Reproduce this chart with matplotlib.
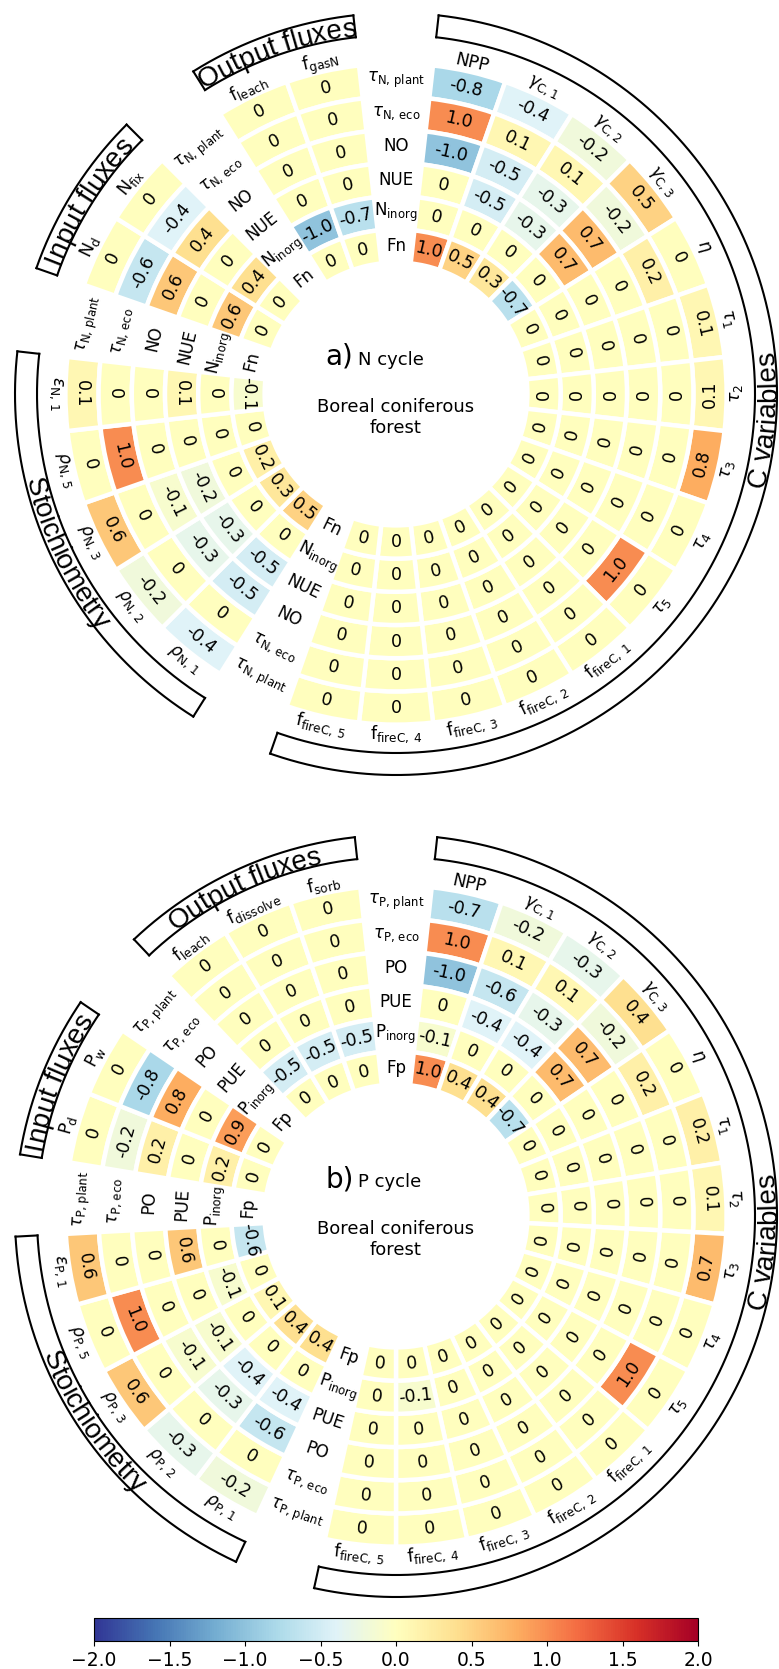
import numpy as np
import matplotlib.pyplot as plt
from matplotlib import colors, cm
from matplotlib.font_manager import FontProperties

W, H = 779, 1669
fig = plt.figure(figsize=(W / 100, H / 100), dpi=100)

cmap = plt.get_cmap('RdYlBu_r')
norm = colors.Normalize(-2, 2)

# column labels shared by both cycles
c_cols = ['NPP', r'$\gamma_{\mathrm{C,1}}$', r'$\gamma_{\mathrm{C,2}}$', r'$\gamma_{\mathrm{C,3}}$',
          r'$\eta$', r'$\tau_1$', r'$\tau_2$', r'$\tau_3$', r'$\tau_4$', r'$\tau_5$',
          r'$\mathrm{f_{fireC,\,1}}$', r'$\mathrm{f_{fireC,\,2}}$', r'$\mathrm{f_{fireC,\,3}}$',
          r'$\mathrm{f_{fireC,\,4}}$', r'$\mathrm{f_{fireC,\,5}}$']

# ---- N cycle ----
n_rows = [r'$\tau_{\mathrm{N,\,plant}}$', r'$\tau_{\mathrm{N,\,eco}}$', 'NO', 'NUE',
          r'$\mathrm{N_{inorg}}$', 'Fn']
n_cvars = [
    [-0.8, -0.4, -0.2, 0.5, 0, 0.1, 0.1, 0.8, 0, 0, 0, 0, 0, 0, 0],
    [1.0, 0.1, 0.1, -0.2, 0.2, 0, 0, 0, 0, 1.0, 0, 0, 0, 0, 0],
    [-1.0, -0.5, -0.3, 0.7, 0, 0, 0, 0, 0, 0, 0, 0, 0, 0, 0],
    [0, -0.5, -0.3, 0.7, 0, 0, 0, 0, 0, 0, 0, 0, 0, 0, 0],
    [0, 0, 0, 0, 0, 0, 0, 0, 0, 0, 0, 0, 0, 0, 0],
    [1.0, 0.5, 0.3, -0.7, 0, 0, 0, 0, 0, 0, 0, 0, 0, 0, 0],
]
n_stoich_cols = [r'$\rho_{\mathrm{N,\,1}}$', r'$\rho_{\mathrm{N,\,2}}$', r'$\rho_{\mathrm{N,\,3}}$',
                 r'$\rho_{\mathrm{N,\,5}}$', r'$\varepsilon_{\mathrm{N,\,1}}$']
n_stoich = [
    [-0.4, -0.2, 0.6, 0, 0.1],
    [0, 0, 0, 1.0, 0],
    [-0.5, -0.3, -0.1, 0, 0],
    [-0.5, -0.3, -0.2, 0, 0.1],
    [0, 0, 0, 0, 0],
    [0.5, 0.3, 0.2, 0, -0.1],
]
n_in_cols = [r'$\mathrm{N_d}$', r'$\mathrm{N_{fix}}$']
n_in = [[0, 0], [-0.6, -0.4], [0.6, 0.4], [0, 0], [0.6, 0.4], [0, 0]]
n_out_cols = [r'$\mathrm{f_{leach}}$', r'$\mathrm{f_{gasN}}$']
n_out = [[0, 0], [0, 0], [0, 0], [0, 0], [-1.0, -0.7], [0, 0]]

# ---- P cycle ----
p_rows = [r'$\tau_{\mathrm{P,\,plant}}$', r'$\tau_{\mathrm{P,\,eco}}$', 'PO', 'PUE',
          r'$\mathrm{P_{inorg}}$', 'Fp']
p_cvars = [
    [-0.7, -0.2, -0.3, 0.4, 0, 0.2, 0.1, 0.7, 0, 0, 0, 0, 0, 0, 0],
    [1.0, 0.1, 0.1, -0.2, 0.2, 0, 0, 0, 0, 1.0, 0, 0, 0, 0, 0],
    [-1.0, -0.6, -0.3, 0.7, 0, 0, 0, 0, 0, 0, 0, 0, 0, 0, 0],
    [0, -0.4, -0.4, 0.7, 0, 0, 0, 0, 0, 0, 0, 0, 0, 0, 0],
    [-0.1, 0, 0, 0, 0, 0, 0, 0, 0, 0, 0, 0, 0, -0.1, 0],
    [1.0, 0.4, 0.4, -0.7, 0, 0, 0, 0, 0, 0, 0, 0, 0, 0, 0],
]
p_stoich_cols = [r'$\rho_{\mathrm{P,\,1}}$', r'$\rho_{\mathrm{P,\,2}}$', r'$\rho_{\mathrm{P,\,3}}$',
                 r'$\rho_{\mathrm{P,\,5}}$', r'$\varepsilon_{\mathrm{P,\,1}}$']
p_stoich = [
    [-0.2, -0.3, 0.6, 0, 0.6],
    [0, 0, 0, 1.0, 0],
    [-0.6, -0.3, -0.1, 0, 0],
    [-0.4, -0.4, -0.1, 0, 0.6],
    [0, 0, 0, -0.1, 0],
    [0.4, 0.4, 0.1, 0, -0.6],
]
p_in_cols = [r'$\mathrm{P_d}$', r'$\mathrm{P_w}$']
p_in = [[0, 0], [-0.2, -0.8], [0.2, 0.8], [0, 0], [0.2, 0.9], [0, 0]]
p_out_cols = [r'$\mathrm{f_{leach}}$', r'$\mathrm{f_{dissolve}}$', r'$\mathrm{f_{sorb}}$']
p_out = [[0, 0, 0], [0, 0, 0], [0, 0, 0], [0, 0, 0], [-0.5, -0.5, -0.5], [0, 0, 0]]

R_AX = 395          # axes radius in pixels
R_IN, STEP = 148, 33.2
BAND = (359, 381)
renderer = fig.canvas.get_renderer()
band_font = FontProperties(family='Liberation Sans', size=20)


def text_rot(th):
    r = (-th + 180) % 360 - 180
    if abs(r) >= 90 - 1e-6:
        r = (r + 360) % 360 - 180
    return r


def advance(s, fp):
    w1 = renderer.get_text_width_height_descent(s + '|', fp, ismath=False)[0]
    w0 = renderer.get_text_width_height_descent('|', fp, ismath=False)[0]
    return w1 - w0


def arc_text(ax, s, th_c, r_mid, fp):
    flip = 90 < th_c < 270
    total = advance(s, fp)
    cap = 0.72 * fp.get_size() * 100 / 72
    rb = r_mid + cap / 2 if flip else r_mid - cap / 2
    for i, ch in enumerate(s):
        if ch == ' ':
            continue
        x = (advance(s[:i], fp) + advance(s[:i + 1], fp)) / 2 - total / 2
        d = np.degrees(x / rb)
        th = th_c - d if flip else th_c + d
        rot = 180 - th if flip else -th
        ax.text(np.radians(th), rb, ch, rotation=rot, rotation_mode='anchor',
                ha='center', va='baseline', fontproperties=fp)


def draw_cycle(cx, cy, rows, groups, letter, cycle):
    ax = fig.add_axes([(cx - R_AX) / W, 1 - (cy + R_AX) / H, 2 * R_AX / W, 2 * R_AX / H],
                      projection='polar')
    ax.set_theta_zero_location('N')
    ax.set_theta_direction(-1)
    ax.set_ylim(0, R_AX)
    ax.axis('off')

    nslots = sum(len(g[1]) + 1 for g in groups)
    dth = 360 / nslots
    radii = [R_IN + (len(rows) - 1 - i) * STEP for i in range(len(rows))]

    k = 0
    for title, cols, vals, th_title in groups:
        # row labels in the gap slot before each group
        th = k * dth
        for i, lab in enumerate(rows):
            ax.text(np.radians(th), radii[i], lab, rotation=text_rot(th), rotation_mode='anchor',
                    ha='center', va='center', fontsize=12)
        k += 1
        k0 = k
        for j, col in enumerate(cols):
            th = k * dth
            for i in range(len(rows)):
                v = vals[i][j]
                ax.bar(np.radians(th), STEP, width=np.radians(dth), bottom=radii[i] - STEP / 2,
                       color=cmap(norm(v)), edgecolor='white', linewidth=3.2)
                ax.text(np.radians(th), radii[i], '0' if v == 0 else f'{v:.1f}',
                        rotation=text_rot(th), rotation_mode='anchor',
                        ha='center', va='center', fontsize=12.5)
            ax.text(np.radians(th), 340, col, rotation=text_rot(th), rotation_mode='anchor',
                    ha='center', va='center', fontsize=12.5)
            k += 1
        # group bracket
        a0, a1 = np.radians((k0 - 0.5) * dth), np.radians((k - 0.5) * dth)
        t = np.linspace(a0, a1, 300)
        for rr in BAND:
            ax.plot(t, np.full_like(t, rr), color='black', lw=1.5)
        ax.plot([a0, a0], BAND, color='black', lw=1.5)
        ax.plot([a1, a1], BAND, color='black', lw=1.5)
        if th_title is None:
            th_title = (k0 + k - 1) / 2 * dth
        arc_text(ax, title, th_title, sum(BAND) / 2, band_font)

    fig.text(325 / W, 1 - (cy - 29) / H, letter, fontsize=20, va='baseline')
    fig.text(358 / W, 1 - (cy - 29) / H, cycle, fontsize=13, va='baseline')
    fig.text(cx / W, 1 - (cy + 4) / H, 'Boreal coniferous\nforest', fontsize=13,
             ha='center', va='top', multialignment='center', linespacing=1.2)


draw_cycle(396, 394, n_rows,
           [('C variables', c_cols, n_cvars, 94),
            ('Stoichiometry', n_stoich_cols, n_stoich, None),
            ('Input fluxes', n_in_cols, n_in, None),
            ('Output fluxes', n_out_cols, n_out, None)],
           'a)', 'N cycle')
draw_cycle(396, 1216, p_rows,
           [('C variables', c_cols, p_cvars, 94),
            ('Stoichiometry', p_stoich_cols, p_stoich, None),
            ('Input fluxes', p_in_cols, p_in, None),
            ('Output fluxes', p_out_cols, p_out, None)],
           'b)', 'P cycle')

cax = fig.add_axes([94 / W, 1 - 1641 / H, (698 - 94) / W, 23 / H])
cb = fig.colorbar(cm.ScalarMappable(norm=norm, cmap=cmap), cax=cax, orientation='horizontal',
                  ticks=np.arange(-2, 2.01, 0.5))
cb.ax.tick_params(labelsize=13.5)

fig.savefig('out.png', dpi=100)
